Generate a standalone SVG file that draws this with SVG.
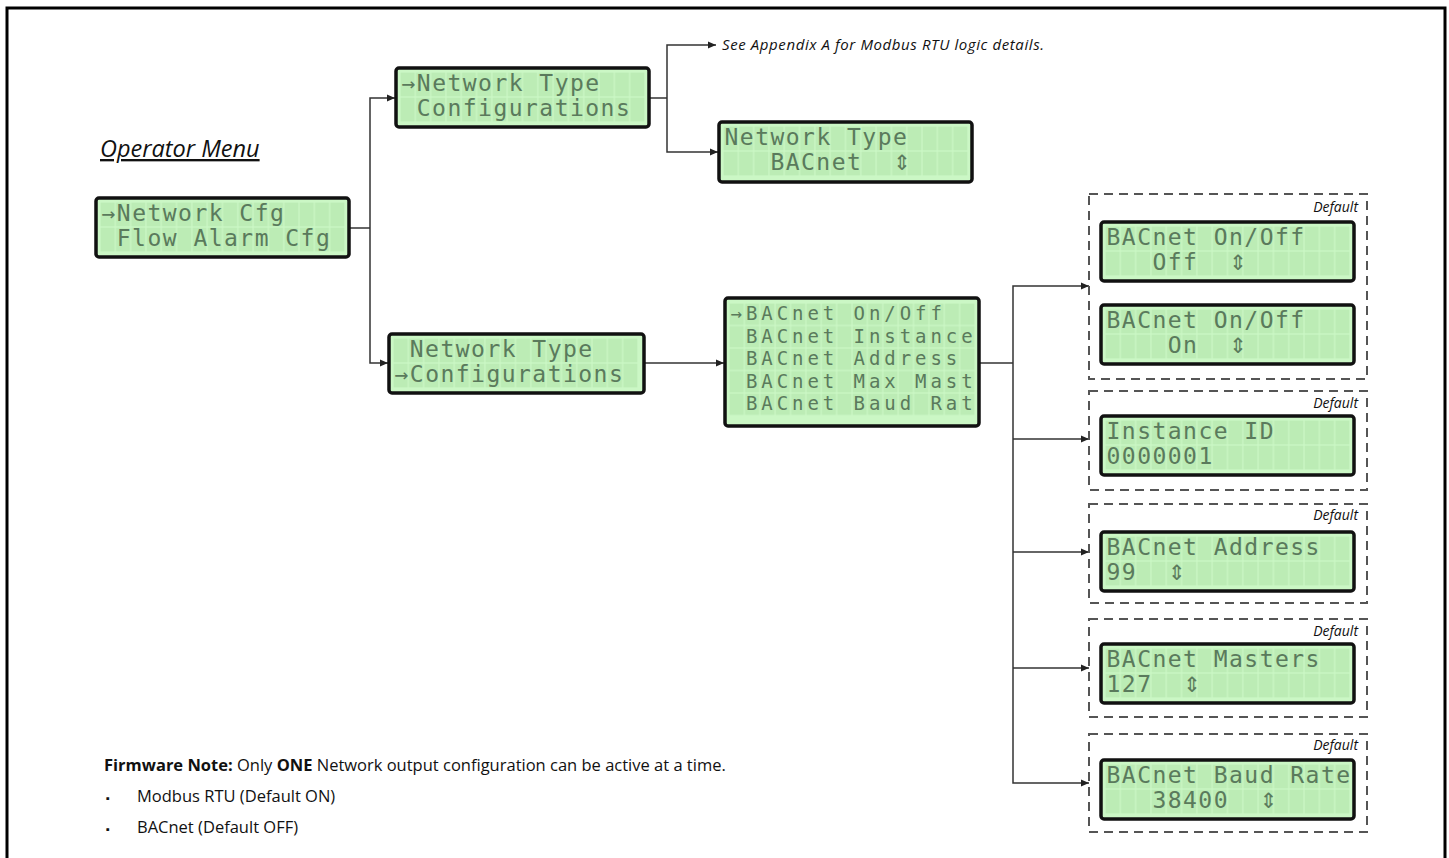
<svg xmlns="http://www.w3.org/2000/svg" width="1449" height="858" viewBox="0 0 1449 858">
<style>
.lcd{fill:#cbf7c5;stroke:#111;stroke-width:3.5}
.lt{font-family:"DejaVu Sans Mono","Liberation Mono",monospace;font-size:23px;letter-spacing:1.47px;fill:#5a7a5c}
.lt5{font-family:"DejaVu Sans Mono","Liberation Mono",monospace;font-size:19px;letter-spacing:3.94px;fill:#5a7a5c}
.ar{font-family:"DejaVu Sans","DejaVu Sans Mono",sans-serif;font-size:21px;fill:#5a7a5c}
.con{fill:none;stroke:#333;stroke-width:1.5}
.dash{fill:none;stroke:#555;stroke-width:2;stroke-dasharray:9 6}
.def{font-family:"Open Sans","Noto Sans",sans-serif;font-style:italic;font-size:14px;fill:#111;text-anchor:end}
.body{font-family:"Open Sans","Noto Sans",sans-serif;font-size:16.5px;fill:#111}
</style>
<defs>
<pattern id="cells2" patternUnits="userSpaceOnUse" x="5" y="5" width="15.3125" height="25">
<rect x="0.6" y="0.6" width="14.1" height="23.8" fill="#bcecb5"/>
</pattern>
<pattern id="cells5" patternUnits="userSpaceOnUse" x="5" y="6" width="15.375" height="22.5">
<rect x="0.6" y="0.6" width="14.2" height="21.3" fill="#bcecb5"/>
</pattern>
<marker id="ah" markerUnits="userSpaceOnUse" markerWidth="10" markerHeight="8" refX="8" refY="4" orient="auto">
<path d="M0,0.5 L8,4 L0,7.5 z" fill="#222"/>
</marker>
</defs>
<rect width="1449" height="858" fill="#fff"/>
<path d="M7,862 V8 H1445 V862" fill="none" stroke="#000" stroke-width="3"/>

<text x="100" y="157" style="font-family:'Open Sans','Noto Sans',sans-serif;font-style:italic;font-size:23.5px;text-decoration:underline;fill:#111">Operator Menu</text>

<g id="connectors">
<path class="con" d="M350,228 H370"/>
<path class="con" d="M370,228 V98 H395" marker-end="url(#ah)"/>
<path class="con" d="M370,228 V363 H388" marker-end="url(#ah)"/>
<path class="con" d="M648,98 H667"/>
<path class="con" d="M667,98 V45 H716" marker-end="url(#ah)"/>
<path class="con" d="M667,98 V152 H718" marker-end="url(#ah)"/>
<path class="con" d="M645,363 H724" marker-end="url(#ah)"/>
<path class="con" d="M980,363 H1013"/>
<path class="con" d="M1013,363 V286 H1089" marker-end="url(#ah)"/>
<path class="con" d="M1013,363 V783 H1089" marker-end="url(#ah)"/>
<path class="con" d="M1013,439 H1089" marker-end="url(#ah)"/>
<path class="con" d="M1013,552 H1089" marker-end="url(#ah)"/>
<path class="con" d="M1013,668 H1089" marker-end="url(#ah)"/>
</g>

<text x="722" y="50" textLength="322" lengthAdjust="spacing" style="font-family:'Open Sans','Noto Sans',sans-serif;font-style:italic;font-size:15px;fill:#111">See Appendix A for Modbus RTU logic details.</text>

<g id="lcd-main" transform="translate(95,197)">
<rect class="lcd" x="1" y="1" width="253" height="59" rx="3"/>
<rect x="5" y="5" width="245" height="50" fill="url(#cells2)"/>
<text class="lt" x="6.5" y="24">→Network Cfg</text>
<text class="lt" x="21.8" y="49">Flow Alarm Cfg</text>
</g>

<g id="lcd-network-type" transform="translate(395,67)">
<rect class="lcd" x="1" y="1" width="253" height="59" rx="3"/>
<rect x="5" y="5" width="245" height="50" fill="url(#cells2)"/>
<text class="lt" x="6.5" y="24">→Network Type</text>
<text class="lt" x="21.8" y="49">Configurations</text>
</g>

<g id="lcd-type-bacnet" transform="translate(718,121)">
<rect class="lcd" x="1" y="1" width="253" height="60" rx="3"/>
<rect x="5" y="5" width="245" height="50" fill="url(#cells2)"/>
<text class="lt" x="6.5" y="24">Network Type</text>
<text class="lt" x="52.4" y="49">BACnet</text>
<text class="ar" x="174.9" y="49">⇕</text>
</g>

<g id="lcd-configurations" transform="translate(388,333)">
<rect class="lcd" x="1" y="1" width="255" height="59" rx="3"/>
<rect x="5" y="5" width="245" height="50" fill="url(#cells2)"/>
<text class="lt" x="21.8" y="24">Network Type</text>
<text class="lt" x="6.5" y="49">→Configurations</text>
</g>

<g id="lcd-bacnet-menu" transform="translate(724,297)">
<rect class="lcd" x="1" y="1" width="254" height="128" rx="3"/>
<rect x="5" y="6" width="246" height="112.5" fill="url(#cells5)"/>
<text class="lt5" x="6.5" y="23">→BACnet On/Off</text>
<text class="lt5" x="21.9" y="45.5">BACnet Instance</text>
<text class="lt5" x="21.9" y="68">BACnet Address</text>
<text class="lt5" x="21.9" y="90.5">BACnet Max Mast</text>
<text class="lt5" x="21.9" y="113">BACnet Baud Rat</text>
</g>

<g id="grp-onoff">
<rect class="dash" x="1089" y="194" width="278" height="185"/>
<text class="def" x="1358" y="212">Default</text>
</g>
<g id="lcd-onoff-off" transform="translate(1100,221)">
<rect class="lcd" x="1" y="1" width="253" height="59" rx="3"/>
<rect x="5" y="5" width="245" height="50" fill="url(#cells2)"/>
<text class="lt" x="6.5" y="24">BACnet On/Off</text>
<text class="lt" x="52.4" y="49">Off</text>
<text class="ar" x="129" y="49">⇕</text>
</g>
<g id="lcd-onoff-on" transform="translate(1100,304)">
<rect class="lcd" x="1" y="1" width="253" height="59" rx="3"/>
<rect x="5" y="5" width="245" height="50" fill="url(#cells2)"/>
<text class="lt" x="6.5" y="24">BACnet On/Off</text>
<text class="lt" x="67.75" y="49">On</text>
<text class="ar" x="129" y="49">⇕</text>
</g>

<g id="grp-instance">
<rect class="dash" x="1089" y="391" width="278" height="99"/>
<text class="def" x="1358" y="408">Default</text>
</g>
<g id="lcd-instance" transform="translate(1100,415)">
<rect class="lcd" x="1" y="1" width="253" height="59" rx="3"/>
<rect x="5" y="5" width="245" height="50" fill="url(#cells2)"/>
<text class="lt" x="6.5" y="24">Instance ID</text>
<text class="lt" x="6.5" y="49">0000001</text>
</g>

<g id="grp-address">
<rect class="dash" x="1089" y="504" width="278" height="99"/>
<text class="def" x="1358" y="520">Default</text>
</g>
<g id="lcd-address" transform="translate(1100,531)">
<rect class="lcd" x="1" y="1" width="253" height="59" rx="3"/>
<rect x="5" y="5" width="245" height="50" fill="url(#cells2)"/>
<text class="lt" x="6.5" y="24">BACnet Address</text>
<text class="lt" x="6.5" y="49">99</text>
<text class="ar" x="67.75" y="49">⇕</text>
</g>

<g id="grp-masters">
<rect class="dash" x="1089" y="619" width="278" height="98"/>
<text class="def" x="1358" y="636">Default</text>
</g>
<g id="lcd-masters" transform="translate(1100,643)">
<rect class="lcd" x="1" y="1" width="253" height="59" rx="3"/>
<rect x="5" y="5" width="245" height="50" fill="url(#cells2)"/>
<text class="lt" x="6.5" y="24">BACnet Masters</text>
<text class="lt" x="6.5" y="49">127</text>
<text class="ar" x="83.1" y="49">⇕</text>
</g>

<g id="grp-baud">
<rect class="dash" x="1089" y="734" width="278" height="98"/>
<text class="def" x="1358" y="750">Default</text>
</g>
<g id="lcd-baud" transform="translate(1100,759)">
<rect class="lcd" x="1" y="1" width="253" height="59" rx="3"/>
<rect x="5" y="5" width="245" height="50" fill="url(#cells2)"/>
<text class="lt" x="6.5" y="24">BACnet Baud Rate</text>
<text class="lt" x="52.4" y="49">38400</text>
<text class="ar" x="159.6" y="49">⇕</text>
</g>

<g id="note">
<text class="body" x="104" y="771"><tspan font-weight="bold">Firmware Note:</tspan> Only <tspan font-weight="bold">ONE</tspan> Network output configuration can be active at a time.</text>
<text class="body" x="106" y="802" style="font-size:11px">▪</text>
<text class="body" x="137" y="802">Modbus RTU (Default ON)</text>
<text class="body" x="106" y="833" style="font-size:11px">▪</text>
<text class="body" x="137" y="833">BACnet (Default OFF)</text>
</g>
</svg>
